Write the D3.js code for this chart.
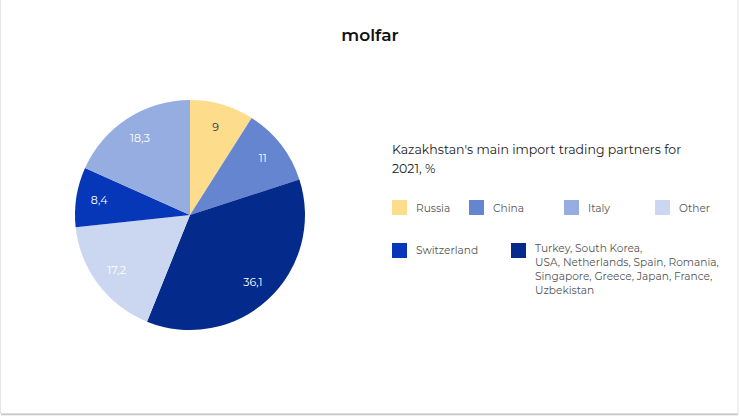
<!DOCTYPE html>
<html><head><meta charset="utf-8">
<script src="https://cdn.jsdelivr.net/npm/d3@7"></script>
<style>
html,body{margin:0;padding:0;background:#fff;}
svg{display:block;}
</style></head>
<body>
<svg id="c" width="740" height="418"></svg>
<script>
const categories = ["Russia","China","Turkey, South Korea, USA, Netherlands, Spain, Romania, Singapore, Greece, Japan, France, Uzbekistan","Other","Switzerland","Italy"];
const values = [9, 11, 36.1, 17.2, 8.4, 18.3];
const valueLabels = ["9","11","36,1","17,2","8,4","18,3"];
const colors = ["#FDDC8C","#6585D0","#042B8C","#CBD6F0","#0637B8","#95ADE0"];
const labelColors = ["#333","#fff","#fff","#fff","#fff","#fff"];
const legendRow1 = ["Russia","China","Italy","Other"];
const legendRow2 = ["Switzerland","Turkey, South Korea, USA, Netherlands, Spain, Romania, Singapore, Greece, Japan, France, Uzbekistan"];
const legendLines = [["Switzerland"],["Turkey, South Korea,","USA, Netherlands, Spain, Romania,","Singapore, Greece, Japan, France,","Uzbekistan"]];
const titleLines = ["Kazakhstan's main import trading partners for","2021, %"];

const svg = d3.select("#c");
const font = "Montserrat, 'Open Sans', sans-serif";

// card
svg.append("rect").attr("x",0.5).attr("y",-1).attr("width",737.5).attr("height",414.5)
  .attr("fill","#fff").attr("stroke","#e6e6e6");
svg.append("line").attr("x1",1).attr("x2",738).attr("y1",414.5).attr("y2",414.5)
  .attr("stroke","#c8c8c8").attr("stroke-width",1.5);

// logo
svg.append("text").attr("x",370).attr("y",41).attr("text-anchor","middle")
  .attr("font-family",font).attr("font-weight",600).attr("font-size",17)
  .attr("fill","#111").text("molfar");

// pie
const cx = 190, cy = 215, r = 115;
const pie = d3.pie().sort(null).value(d=>d)(values);
const arc = d3.arc().innerRadius(0).outerRadius(r);
const labelArc = d3.arc().innerRadius(92).outerRadius(92);
const g = svg.append("g").attr("transform",`translate(${cx},${cy})`);
g.selectAll("path").data(pie).join("path")
  .attr("d",arc).attr("fill",(d,i)=>colors[i]);
g.selectAll("text").data(pie).join("text")
  .attr("transform",d=>`translate(${labelArc.centroid(d)})`)
  .attr("text-anchor","middle").attr("dy","0.35em")
  .attr("font-family",font).attr("font-size",11)
  .attr("fill",(d,i)=>labelColors[i]).text((d,i)=>valueLabels[i]);

// title
const t = svg.append("text").attr("font-family",font).attr("font-size",12.5).attr("fill","#222");
titleLines.forEach((l,i)=>t.append("tspan").attr("x",392).attr("y",154+i*19).text(l));

// legend
const colorOf = name => colors[categories.indexOf(name)];
const row1x = [392,469,564,655];
const lfs = 10.6;
legendRow1.forEach((n,i)=>{
  svg.append("rect").attr("x",row1x[i]).attr("y",200).attr("width",15).attr("height",15).attr("fill",colorOf(n));
  svg.append("text").attr("x",row1x[i]+24).attr("y",212).attr("font-family",font).attr("font-size",lfs)
    .attr("fill","#555").text(n);
});
const row2x = [392,511];
legendRow2.forEach((n,i)=>{
  svg.append("rect").attr("x",row2x[i]).attr("y",243).attr("width",15).attr("height",15).attr("fill",colorOf(n));
  const tx = svg.append("text").attr("font-family",font).attr("font-size",lfs).attr("fill","#555");
  legendLines[i].forEach((l,j)=>tx.append("tspan").attr("x",row2x[i]+24).attr("y",(i===0?254:252)+j*14).text(l));
});
</script>
</body></html>
